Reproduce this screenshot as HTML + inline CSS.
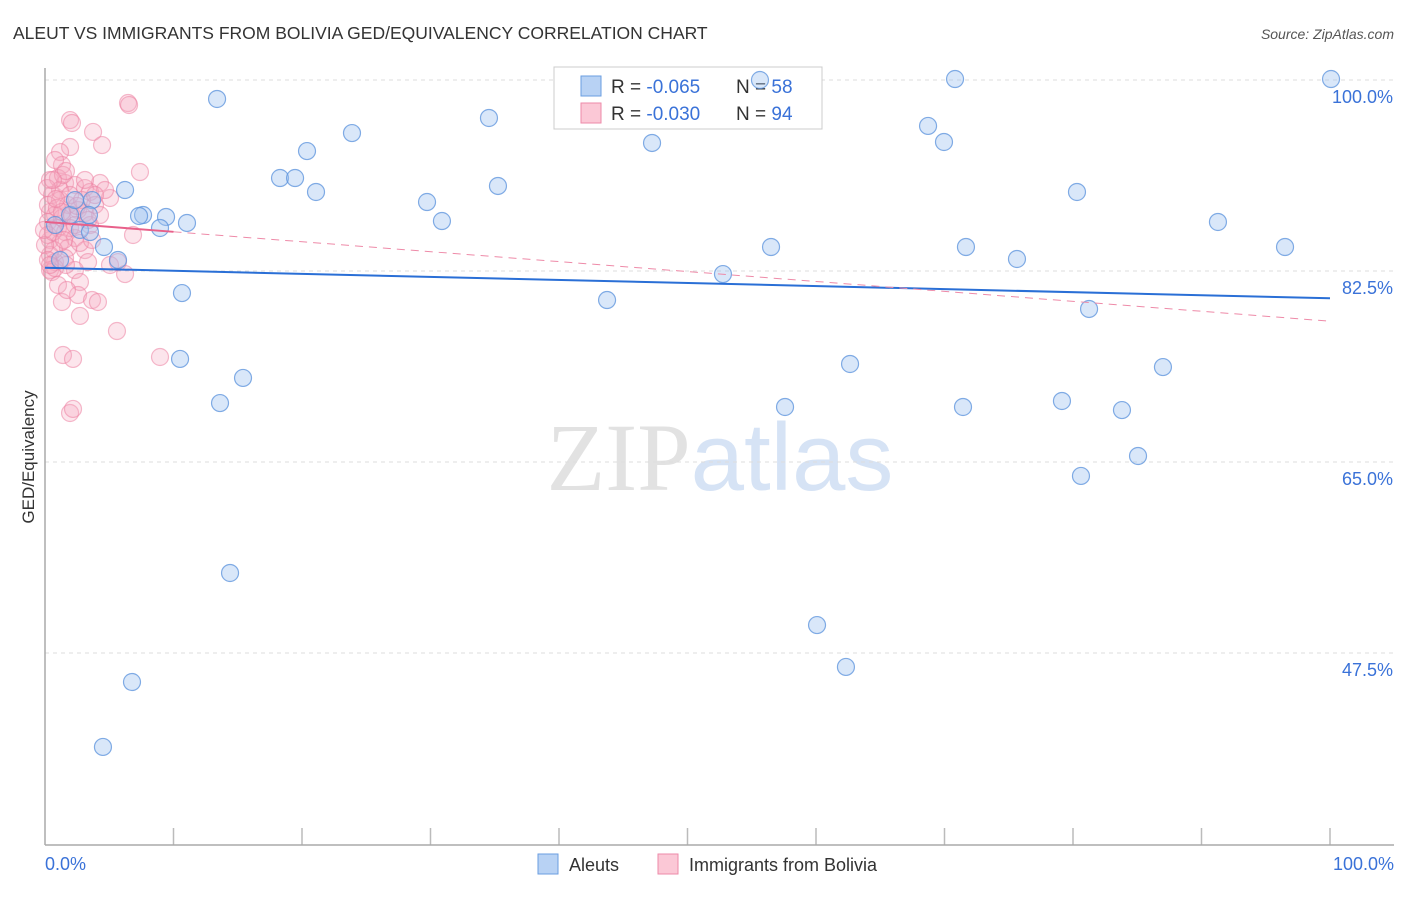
<!DOCTYPE html>
<html><head><meta charset="utf-8"><style>
body{margin:0;background:#fff;font-family:"Liberation Sans",sans-serif;}
svg text{font-family:"Liberation Sans",sans-serif;}
</style></head><body>
<svg id="chart" width="1406" height="892" xmlns="http://www.w3.org/2000/svg">
<text x="13" y="39" font-size="17.5" fill="#333">ALEUT VS IMMIGRANTS FROM BOLIVIA GED/EQUIVALENCY CORRELATION CHART</text>
<text x="1394" y="39" font-size="14" fill="#555" text-anchor="end" font-style="italic">Source: ZipAtlas.com</text>
<text x="720" y="490" font-size="96" text-anchor="middle"><tspan fill="#e2e2e2" font-family="Liberation Serif">ZIP</tspan><tspan fill="#d6e3f5">atlas</tspan></text>
<g id="grid"></g>
<line x1="45" y1="68" x2="45" y2="845" stroke="#aaa" stroke-width="1.5"/>
<line x1="45" y1="845" x2="1394" y2="845" stroke="#aaa" stroke-width="1.5"/>
<text transform="translate(34,457) rotate(-90)" font-size="17" fill="#333" text-anchor="middle">GED/Equivalency</text>
<text x="45" y="870" font-size="18" fill="#3a72d8">0.0%</text>
<text x="1394" y="870" font-size="18" fill="#3a72d8" text-anchor="end">100.0%</text>
<g>
<rect x="554" y="67" width="268" height="62" fill="#fff" stroke="#ccc"/>
<rect x="581" y="76" width="20" height="20" fill="#b8d2f4" stroke="#6a9ee0"/>
<rect x="581" y="103" width="20" height="20" fill="#fbc8d6" stroke="#ee8aa8"/>
<text x="611" y="93" font-size="19" fill="#333">R = <tspan fill="#3a72d8">-0.065</tspan></text>
<text x="736" y="93" font-size="19" fill="#333">N = <tspan fill="#3a72d8">58</tspan></text>
<text x="611" y="120" font-size="19" fill="#333">R = <tspan fill="#3a72d8">-0.030</tspan></text>
<text x="736" y="120" font-size="19" fill="#333">N = <tspan fill="#3a72d8">94</tspan></text>
</g>
<g id="pts"></g>
<g id="lines"></g>
<g>
<rect x="538" y="854" width="20" height="20" fill="#b8d2f4" stroke="#6a9ee0"/>
<text x="569" y="871" font-size="18" fill="#333">Aleuts</text>
<rect x="658" y="854" width="20" height="20" fill="#fbc8d6" stroke="#ee8aa8"/>
<text x="689" y="871" font-size="18" fill="#333">Immigrants from Bolivia</text>
</g>
</svg>
<script>
const yTicks=[100,82.5,65,47.5];
const yTickLabels=["100.0%","82.5%","65.0%","47.5%"];
const xTicks=[10,20,30,40,50,60,70,80,90,100];
const aleutPx=[[217,99],[760,80],[955,79],[1331,79],[489,118],[352,133],[928,126],[652,143],[944,142],[307,151],[280,178],[295,178],[498,186],[125,190],[316,192],[1077,192],[427,202],[92,200],[442,221],[1218,222],[143,215],[139,216],[166,217],[187,223],[89,215],[160,228],[80,230],[104,247],[771,247],[966,247],[1285,247],[1017,259],[118,260],[723,274],[182,293],[607,300],[1089,309],[180,359],[850,364],[1163,367],[243,378],[220,403],[785,407],[963,407],[1062,401],[1122,410],[1138,456],[1081,476],[230,573],[817,625],[846,667],[132,682],[103,747],[70,215],[55,225],[60,260],[75,200],[90,232]];
const boliviaPx=[[128,103],[129,105],[70,120],[72,123],[93,132],[102,145],[70,147],[60,152],[62,165],[55,160],[140,172],[50,180],[58,178],[65,183],[75,185],[100,183],[85,188],[110,198],[90,192],[52,195],[60,200],[68,205],[78,210],[50,212],[55,215],[62,218],[72,215],[85,213],[48,222],[58,228],[65,232],[75,238],[133,235],[50,240],[60,243],[68,248],[85,250],[50,255],[55,262],[65,258],[88,262],[110,265],[118,262],[50,270],[75,270],[125,274],[80,282],[78,295],[92,300],[62,302],[98,302],[80,316],[117,331],[63,355],[73,359],[160,357],[70,413],[73,409],[52,272],[55,268],[48,235],[60,190],[70,195],[82,200],[95,205],[105,190],[48,205],[54,250],[66,265],[90,225],[100,215],[45,245],[57,208],[63,175],[47,188],[53,232],[70,228],[80,243],[92,240],[62,212],[75,225],[48,260],[58,285],[67,290],[85,180],[95,195],[50,265],[44,230],[56,199],[66,171],[77,206],[88,220],[53,180],[64,240]];
function toX(px){return (px-45)/12.85;} function toY(py){return 100-(py-80)/10.914;}
const aleutX=aleutPx.map(p=>+toX(p[0]).toFixed(2)), aleutY=aleutPx.map(p=>+toY(p[1]).toFixed(2));
const boliviaX=boliviaPx.map(p=>+toX(p[0]).toFixed(2)), boliviaY=boliviaPx.map(p=>+toY(p[1]).toFixed(2));
const aleutTrend=[82.8,80.0];
const boliviaTrend=[87.0,77.9];
const NS="http://www.w3.org/2000/svg";
function sx(v){return 45+v*12.85;} function sy(v){return 80+(100-v)*10.914;}
function mk(t,a){const e=document.createElementNS(NS,t);for(const k in a)e.setAttribute(k,a[k]);return e;}
const grid=document.getElementById('grid');
yTicks.forEach((t,i)=>{
 const l=mk('line',{x1:45,x2:1394,y1:sy(t),y2:sy(t),stroke:'#ddd','stroke-dasharray':'4,4'});
 
 
 grid.appendChild(l);
 const tx=mk('text',{x:1393,y:sy(t)+23,'font-size':18,fill:'#3a72d8','text-anchor':'end'});
 tx.textContent=yTickLabels[i];
 
 
 grid.appendChild(tx);
});
xTicks.forEach(t=>{
 const l=mk('line',{x1:sx(t),x2:sx(t),y1:828,y2:845,stroke:'#bbb','stroke-width':1.5});
 
 
 grid.appendChild(l);
});
const pts=document.getElementById('pts');
boliviaX.forEach((x,i)=>{
 const c=mk('circle',{cx:sx(x),cy:sy(boliviaY[i]),r:8.5,fill:'rgba(246,168,192,0.3)',stroke:'rgba(236,130,162,0.55)','stroke-width':1.2});
 
 
 pts.appendChild(c);
});
aleutX.forEach((x,i)=>{
 const c=mk('circle',{cx:sx(x),cy:sy(aleutY[i]),r:8.5,fill:'rgba(160,196,240,0.4)',stroke:'rgba(90,145,220,0.75)','stroke-width':1.2});
 
 
 pts.appendChild(c);
});
const lines=document.getElementById('lines');
let l=mk('line',{x1:sx(0),y1:sy(aleutTrend[0]),x2:sx(100),y2:sy(aleutTrend[1]),stroke:'#2a6fd6','stroke-width':2});


lines.appendChild(l);
const pAt=x=>boliviaTrend[0]+(boliviaTrend[1]-boliviaTrend[0])*x/100;
l=mk('line',{x1:sx(10),y1:sy(pAt(10)),x2:sx(100),y2:sy(pAt(100)),stroke:'#ee8aa8','stroke-width':1,'stroke-dasharray':'8,6'});


lines.appendChild(l);
l=mk('line',{x1:sx(0),y1:sy(pAt(0)),x2:sx(10),y2:sy(pAt(10)),stroke:'#e8608a','stroke-width':2});


lines.appendChild(l);
</script>
</body></html>
